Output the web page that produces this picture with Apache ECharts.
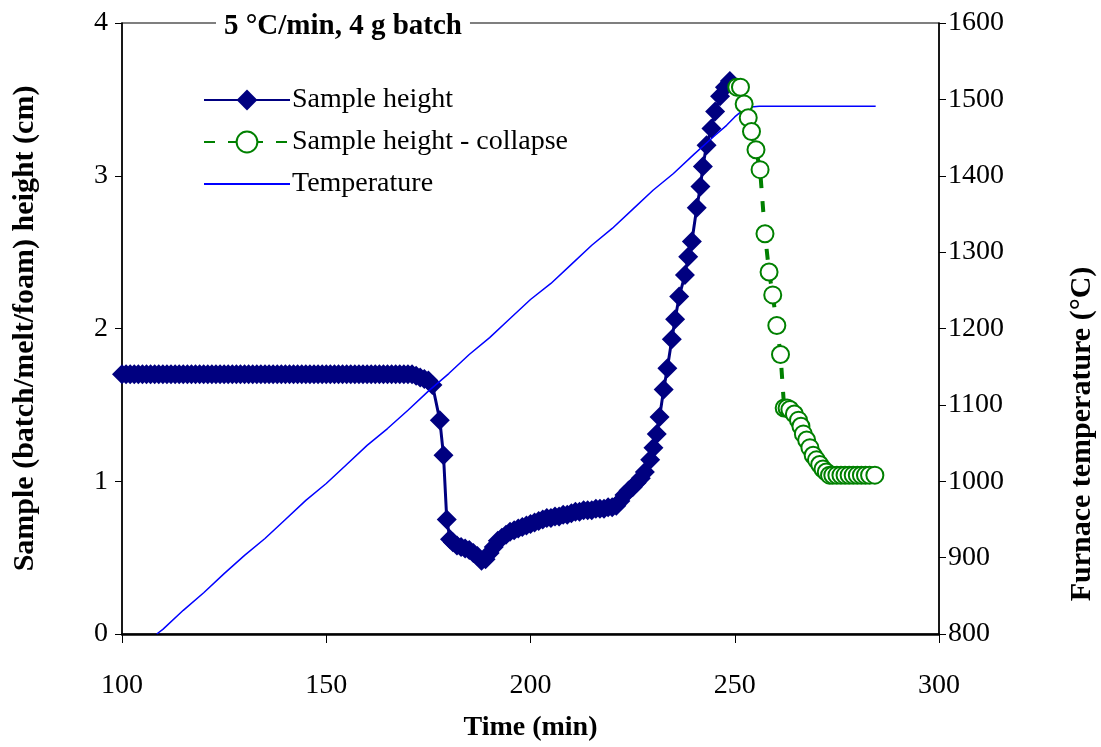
<!DOCTYPE html>
<html>
<head>
<meta charset="utf-8">
<script src="https://cdn.jsdelivr.net/npm/echarts@6/dist/echarts.min.js"></script>
<style>html,body{margin:0;padding:0;background:#fff}#c{width:1101px;height:747px}</style>
</head>
<body>
<div id="c"></div>
<script>
// Time (min) and sample height (cm)
const heightTime = [100,101,102,103,104,105,106,107,108,109,110,111,112,113,114,115,116,117,118,119,120,121,122,123,124,125,126,127,128,129,130,131,132,133,134,135,136,137,138,139,140,141,142,143,144,145,146,147,148,149,150,151,152,153,154,155,156,157,158,159,160,161,162,163,164,165,166,167,168,169,170,171,172,173,174,175,176,177.8,178.7,179.5,180.3,181,182,183,184,185,186,187,188,189,190,191,192,193,194,195,196,197,198,199,200,201,202,203,204,205,206,207,208,209,210,211,212,213,214,215,216,217,218,219,220,221,222,223,224,225,226,227,228,229.3,230.1,230.9,231.6,232.6,233.5,234.6,235.4,236.4,237.8,238.6,239.5,240.7,241.6,242.2,243.1,244.3,245.2,246.4,247.6,248.8];
const heightValues = [1.70,1.70,1.70,1.70,1.70,1.70,1.70,1.70,1.70,1.70,1.70,1.70,1.70,1.70,1.70,1.70,1.70,1.70,1.70,1.70,1.70,1.70,1.70,1.70,1.70,1.70,1.70,1.70,1.70,1.70,1.70,1.70,1.70,1.70,1.70,1.70,1.70,1.70,1.70,1.70,1.70,1.70,1.70,1.70,1.70,1.70,1.70,1.70,1.70,1.70,1.70,1.70,1.70,1.70,1.70,1.70,1.70,1.70,1.70,1.70,1.70,1.70,1.70,1.70,1.70,1.70,1.70,1.70,1.70,1.70,1.70,1.70,1.69,1.68,1.67,1.66,1.63,1.40,1.17,0.75,0.62,0.60,0.58,0.57,0.56,0.55,0.53,0.51,0.48,0.49,0.53,0.57,0.61,0.63,0.65,0.67,0.68,0.69,0.70,0.71,0.72,0.73,0.74,0.75,0.76,0.76,0.77,0.77,0.78,0.78,0.79,0.80,0.80,0.81,0.81,0.81,0.82,0.82,0.82,0.83,0.83,0.84,0.87,0.91,0.94,0.96,0.99,1.02,1.06,1.14,1.22,1.31,1.42,1.60,1.74,1.93,2.06,2.21,2.35,2.47,2.57,2.79,2.93,3.06,3.20,3.31,3.42,3.52,3.58,3.62];

// Collapse phase
const collapseTime = [250.5,251.4,252.3,253.3,254.1,255.2,256.2,257.4,258.4,259.3,260.3,261.2,262.1,262.8,263.5,264.6,265.6,266.2,266.8,267.6,268.4,269.2,270.0,270.8,271.6,272.4,273.2,274,275,276,277,278,279,280,281,282,283,284.3];
const collapseValues = [3.58,3.58,3.47,3.38,3.29,3.17,3.04,2.62,2.37,2.22,2.02,1.83,1.48,1.48,1.47,1.44,1.40,1.36,1.31,1.27,1.22,1.17,1.14,1.11,1.08,1.06,1.04,1.04,1.04,1.04,1.04,1.04,1.04,1.04,1.04,1.04,1.04,1.04];

// Furnace temperature (°C)
const tempTime = [108.5,110,115,120,125,130,135,140,145,150,155,160,165,170,175,180,185,190,195,200,205,210,215,220,225,230,235,240,245,248,250,252,254,256,260,265,270,275,280,284.5];
const tempValues = [800,806,831,854,879,903,925,950,975,997,1022,1047,1069,1093,1118,1141,1166,1188,1213,1238,1259,1284,1309,1331,1356,1381,1403,1428,1452,1466,1477,1486,1490,1491,1491,1491,1491,1491,1491,1491];

const xTicks = {min:100, max:300, step:50};
const yLeftTicks = {min:0, max:4, step:1};
const yRightTicks = {min:800, max:1600, step:100};

const FONT = 'Liberation Serif';
const zip = (a,b) => a.map((v,i)=>[v,b[i]]);

const chart = echarts.init(document.getElementById('c'), null, {renderer:'canvas'});
chart.setOption({
  backgroundColor:'#fff',
  animation:false,
  title:{
    text:'5 °C/min, 4 g batch',
    left:216, top:10,
    backgroundColor:'#fff',
    padding:[2,8,2,8],
    textStyle:{fontFamily:FONT, fontWeight:'bold', fontSize:29, color:'#000'}
  },
  legend:{
    orient:'vertical', left:198, top:81,
    itemWidth:86, itemHeight:26, itemGap:14,
    textStyle:{fontFamily:FONT, fontSize:28, color:'#000', padding:[0,0,0,-3]},
    data:['Sample height','Sample height - collapse',{name:'Temperature', itemStyle:{opacity:0}}]
  },
  grid:{left:122, right:162, top:23, bottom:112, show:true, borderColor:'#000', borderWidth:1.2},
  xAxis:{
    type:'value', min:xTicks.min, max:xTicks.max, interval:xTicks.step,
    name:'Time (min)', nameLocation:'middle', nameGap:80,
    nameTextStyle:{fontFamily:FONT, fontWeight:'bold', fontSize:28, color:'#000'},
    axisLine:{show:true, onZero:false, lineStyle:{color:'#000', width:2.5}},
    axisTick:{show:true, length:9, lineStyle:{color:'#000', width:1}},
    axisLabel:{fontFamily:FONT, fontSize:28, color:'#000', margin:38},
    splitLine:{show:false}
  },
  yAxis:[{
    type:'value', min:yLeftTicks.min, max:yLeftTicks.max, interval:yLeftTicks.step,
    name:'Sample (batch/melt/foam) height (cm)', nameLocation:'middle', nameGap:82, nameRotate:90,
    nameTextStyle:{fontFamily:FONT, fontWeight:'bold', fontSize:30, color:'#000'},
    axisLine:{show:true, onZero:false, lineStyle:{color:'#000', width:1.5}},
    axisTick:{show:true, length:7, lineStyle:{color:'#000', width:1}},
    axisLabel:{fontFamily:FONT, fontSize:28, color:'#000', margin:14},
    splitLine:{show:false}
  },{
    type:'value', position:'right', min:yRightTicks.min, max:yRightTicks.max, interval:yRightTicks.step,
    axisLine:{show:true, onZero:false, lineStyle:{color:'#000', width:1.5}},
    axisTick:{show:true, length:7, lineStyle:{color:'#000', width:1}},
    axisLabel:{fontFamily:FONT, fontSize:28, color:'#000', margin:9, formatter:(v)=>String(v)},
    splitLine:{show:false}
  }],
  graphic:[{
    type:'text', x:1082, y:434, rotation:Math.PI/2,
    style:{text:'Furnace temperature (°C)', fontFamily:FONT, fontWeight:'bold', fontSize:30, fill:'#000', align:'center', verticalAlign:'middle'}
  }],
  series:[{
    name:'Sample height', type:'line', yAxisIndex:0, z:2,
    data:zip(heightTime,heightValues),
    symbol:'diamond', symbolSize:20,
    itemStyle:{color:'#000080'},
    lineStyle:{color:'#000080', width:3}
  },{
    name:'Sample height - collapse', type:'line', yAxisIndex:0, z:4,
    data:zip(collapseTime,collapseValues),
    symbol:'emptyCircle', symbolSize:17,
    itemStyle:{color:'#008000', borderWidth:1.8},
    lineStyle:{color:'#008000', width:4, type:[11,13]}
  },{
    name:'Temperature', type:'line', yAxisIndex:1, z:3,
    data:zip(tempTime,tempValues),
    symbol:'none', showSymbol:false,
    itemStyle:{color:'#0000FF'},
    lineStyle:{color:'#0000FF', width:1.5}
  }]
});
</script>
</body>
</html>
